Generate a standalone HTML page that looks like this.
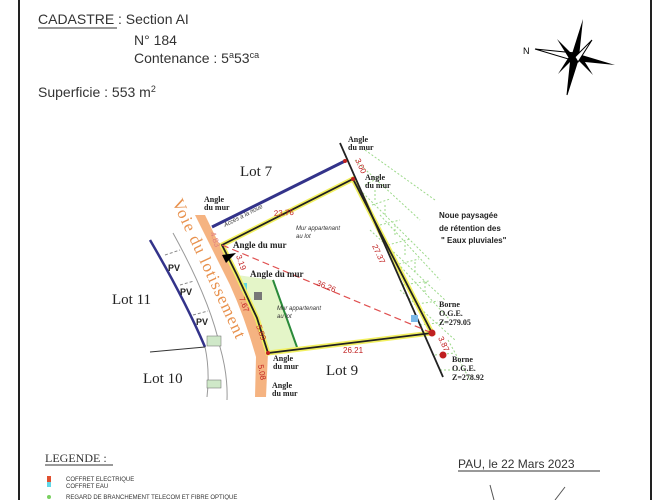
<!DOCTYPE html>
<html><head><meta charset="utf-8"><style>
body{margin:0;background:#fff;width:667px;height:500px;overflow:hidden;font-family:"Liberation Sans",sans-serif}
svg{position:absolute;left:0;top:0}
</style></head><body>
<svg width="667" height="500" viewBox="0 0 667 500">
<line x1="19" y1="0" x2="19" y2="500" stroke="#222" stroke-width="2"/>
<line x1="651" y1="0" x2="651" y2="500" stroke="#222" stroke-width="2"/>
<g font-family="Liberation Sans,sans-serif" font-size="14" fill="#333">
<text x="38" y="24">CADASTRE</text><line x1="38" y1="28" x2="117" y2="28" stroke="#333"/>
<text x="118" y="24">:  Section  AI</text>
<text x="134" y="45">N°  184</text>
<text x="134" y="63">Contenance  :  5<tspan font-size="9" dy="-5">a</tspan><tspan dy="5">53</tspan><tspan font-size="9" dy="-5">ca</tspan></text>
<text x="38" y="97">Superficie  :  553  m<tspan font-size="9" dy="-5">2</tspan></text>
</g>
<g transform="translate(575,57)">
<polygon points="-40,-8 0,-4 0,4" fill="#fff" stroke="#000"/><polygon points="40,8 0,-4 0,4" fill="#000"/>
<polygon points="-4,0 8,-38 4,0" fill="#000"/><polygon points="-4,0 -8,38 4,0" fill="#000" stroke="#000"/>
<polygon points="0,0 -18,-18 -5,3" fill="#000"/><polygon points="0,0 18,18 5,-3" fill="#000"/>
<polygon points="0,0 17,-17 3,5" fill="#fff" stroke="#000"/><polygon points="0,0 -17,17 -3,-5" fill="#000"/>
<text x="-52" y="-3" font-size="9" font-family="Liberation Sans">N</text>
</g>
<g stroke="#9cd98a" stroke-width="1" fill="none" stroke-dasharray="2,2">
<path d="M365,185 l15,-8 M372,205 l18,-6 M380,225 l20,-5 M388,245 l22,-6 M395,265 l24,-6 M403,285 l26,-4 M410,305 l28,-4 M420,325 l25,-3 M435,355 l20,-2 M440,370 l20,0"/>
<path d="M355,160 L420,220 M360,190 L430,260 M370,230 L445,300 M400,290 L455,340 M365,150 L435,200 M380,215 L440,280 M390,255 L450,320 M448,340 L470,380"/>
<path d="M375,190 v12 M385,205 v12 M395,225 v12 M405,245 v12 M415,262 v12 M425,282 v12"/>
</g>
<path d="M150,240 Q185,300 205,347" stroke="#33338a" stroke-width="2.5" fill="none"/>
<path d="M205,347 Q210,370 207,397" stroke="#999" fill="none"/>
<path d="M173,233 Q210,300 220,347 Q228,375 227,400" stroke="#999" fill="none"/>
<path d="M150,352 L205,347" stroke="#333" fill="none"/>
<path d="M165,255 l15,-5 M180,285 l14,-4 M193,315 l15,-4" stroke="#888" stroke-dasharray="3,2"/>
<rect x="207" y="336" width="14" height="10" fill="#cfe8c8" stroke="#666" stroke-width=".5"/>
<rect x="207" y="380" width="14" height="8" fill="#cfe8c8" stroke="#666" stroke-width=".5"/>
<g font-size="9" font-weight="bold" fill="#222"><text x="168" y="271">PV</text><text x="180" y="295">PV</text><text x="196" y="325">PV</text></g>
<path d="M195,215 L205,215 L222,250 L237,275 Q255,318 268,353 L266,397 L255,397 L256,357 Q245,318 230,285 Z" fill="#f3a66b" opacity=".85"/>
<text x="0" y="0" font-family="Liberation Serif,serif" font-size="17" fill="#e8914d" transform="translate(172,202) rotate(65)" letter-spacing="1">Voie du lotissement</text>
<path d="M237,275 L273,280 L298,350 L268,353 L257,318 Z" fill="#e4f5c8"/>
<line x1="273" y1="280" x2="298" y2="350" stroke="#2a8a3a" stroke-width="2"/>
<rect x="254" y="292" width="8" height="8" fill="#777"/>
<rect x="241" y="283" width="6" height="8" fill="#5fd6e6"/>
<line x1="212" y1="227" x2="345" y2="161" stroke="#33338a" stroke-width="3"/>
<line x1="222" y1="245" x2="353" y2="179" stroke="#222" stroke-width="2"/>
<path d="M222,245 L353,179 L432,333 L268,353 L257,318 L237,275 Z" fill="none" stroke="#f2f060" stroke-width="5"/>
<path d="M222,245 L353,179 L432,333 L268,353 L257,318 L237,275 Z" fill="none" stroke="#222" stroke-width="1.8"/>
<line x1="340" y1="143" x2="443" y2="377" stroke="#222" stroke-width="1.8"/>
<line x1="222" y1="245" x2="432" y2="333" stroke="#e05050" stroke-width="1.2" stroke-dasharray="7,4"/>
<polygon points="222,255 236,253 226,263" fill="#000"/>
<rect x="411" y="315" width="7" height="7" fill="#7ab8e8"/>
<g fill="#c02020"><circle cx="432" cy="333" r="3.5"/><circle cx="443" cy="355" r="3.5"/><circle cx="353" cy="179" r="2"/><circle cx="345" cy="161" r="2"/><circle cx="268" cy="353" r="2"/></g>
<g font-family="Liberation Serif,serif" fill="#222">
<text x="240" y="176" font-size="15">Lot 7</text>
<text x="112" y="304" font-size="15">Lot 11</text>
<text x="143" y="383" font-size="15">Lot 10</text>
<text x="326" y="375" font-size="15">Lot 9</text>
<g font-size="8" font-weight="bold">
<text x="348" y="142">Angle</text><text x="348" y="150">du mur</text>
<text x="365" y="180">Angle</text><text x="365" y="188">du mur</text>
<text x="204" y="202">Angle</text><text x="204" y="210">du mur</text>
<text x="233" y="248" font-size="9">Angle du mur</text>
<text x="250" y="277" font-size="9">Angle du mur</text>
<text x="273" y="361">Angle</text><text x="273" y="369">du mur</text>
<text x="272" y="388">Angle</text><text x="272" y="396">du mur</text>
<text x="439" y="307">Borne</text><text x="439" y="316">O.G.E.</text><text x="439" y="325">Z=279.05</text>
<text x="452" y="362">Borne</text><text x="452" y="371">O.G.E.</text><text x="452" y="380">Z=278.92</text>
</g></g>
<g font-family="Liberation Sans,sans-serif" font-size="8" font-weight="bold" fill="#222">
<text x="439" y="218">Noue paysagée</text><text x="439" y="231">de rétention des</text><text x="441" y="243">" Eaux pluviales"</text>
</g>
<g font-family="Liberation Sans,sans-serif" font-size="6" font-style="italic" fill="#333">
<text x="296" y="230">Mur appartenant</text><text x="296" y="238">au lot</text>
<text x="277" y="310">Mur appartenant</text><text x="277" y="318">au lot</text>
<text transform="translate(225,227) rotate(-27)">Accès à la noue</text>
</g>
<g font-family="Liberation Sans,sans-serif" font-size="8" fill="#c02020">
<text x="274" y="216" transform="rotate(-3 274 216)">23.76</text>
<text x="316" y="285" transform="rotate(22 316 285)">36.26</text>
<text x="343" y="353">26.21</text>
<text transform="translate(372,246) rotate(65)">27.37</text>
<text transform="translate(355,160) rotate(65)">3.00</text>
<text transform="translate(438,338) rotate(65)">3.87</text>
<text transform="translate(236,256) rotate(70)">3.19</text>
<text transform="translate(239,298) rotate(70)">7.67</text>
<text transform="translate(256,326) rotate(70)">5.89</text>
<text transform="translate(258,365) rotate(80)">5.08</text>
<text transform="translate(210,233) rotate(70)" fill="#e08080">4.83</text>
</g>
<text x="45" y="462" font-family="Liberation Serif,serif" font-size="12" fill="#333">LEGENDE  :</text>
<line x1="45" y1="465" x2="113" y2="465" stroke="#333"/>
<rect x="47" y="476" width="4" height="6" fill="#e05030"/><rect x="47" y="482" width="4" height="5" fill="#60d8e8"/>
<text x="66" y="481" font-size="6" fill="#333">COFFRET ELECTRIQUE</text>
<text x="66" y="488" font-size="6" fill="#333">COFFRET EAU</text>
<circle cx="49" cy="497" r="2" fill="#7ad060"/>
<text x="66" y="499" font-size="6" fill="#333">REGARD DE BRANCHEMENT TELECOM ET FIBRE OPTIQUE</text>
<text x="458" y="468" font-size="12" fill="#333">PAU, le 22 Mars 2023</text>
<line x1="458" y1="471" x2="600" y2="471" stroke="#333"/>
<path d="M490,485 L494,500 M565,487 L555,500" stroke="#555"/>
</svg>
</body></html>
